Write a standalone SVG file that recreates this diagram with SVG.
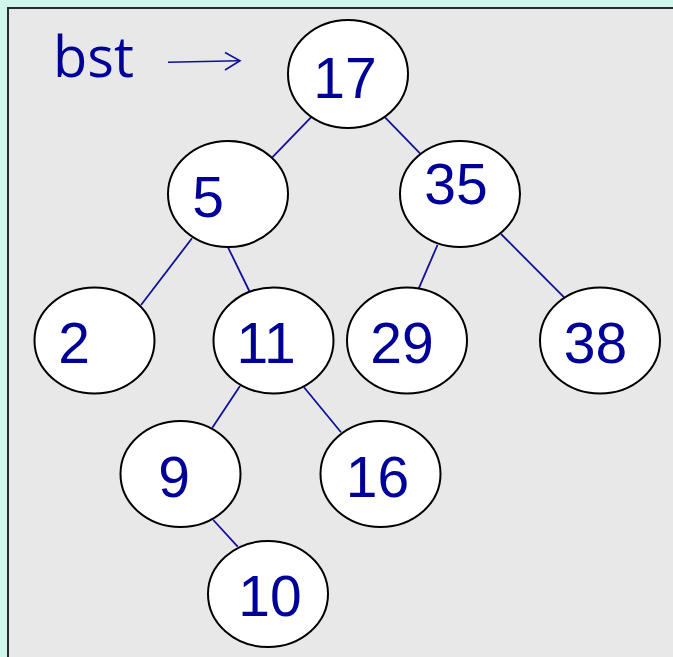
<svg xmlns="http://www.w3.org/2000/svg" width="673" height="657" viewBox="0 0 673 657">
<style>
.node ellipse{fill:#ffffff;stroke:#000000;stroke-width:2}
.node text{font-family:"Liberation Sans",Arial,sans-serif;font-size:57px;fill:#000099;text-anchor:middle}
#edges line{stroke:#10109a;stroke-width:1.8}
</style>
<rect x="0" y="0" width="673" height="657" fill="#d0f5ea"/>
<rect x="8" y="8" width="680" height="670" fill="#e8e8e8" stroke="#2a2a2a" stroke-width="2"/>
<g id="label-bst">
<text x="53" y="77" font-family="'Open Sans','Noto Sans',sans-serif" font-size="56" fill="#000099">bst</text>
<line x1="168" y1="62.3" x2="239" y2="60.7" stroke="#10109a" stroke-width="1.6"/>
<path d="M225 52.5 L240 60.7 L225 70" fill="none" stroke="#10109a" stroke-width="1.6"/>
</g>
<g id="edges">
<line x1="311.7" y1="116.7" x2="272.3" y2="157.3"/>
<line x1="384.3" y1="116.7" x2="420" y2="153.3"/>
<line x1="192" y1="238.3" x2="141" y2="305"/>
<line x1="228" y1="247.3" x2="249.3" y2="291"/>
<line x1="437.5" y1="245" x2="418.8" y2="288.3"/>
<line x1="501" y1="234" x2="564.4" y2="297.7"/>
<line x1="240" y1="386" x2="212.3" y2="427.7"/>
<line x1="304" y1="387.3" x2="341" y2="432.3"/>
<line x1="213.3" y1="520" x2="237.7" y2="546.7"/>
</g>
<g id="n17" class="node"><ellipse cx="348" cy="74" rx="60" ry="54"/><text x="345" y="98">17</text></g>
<g id="n5" class="node"><ellipse cx="228" cy="194" rx="60" ry="53"/><text x="208" y="217">5</text></g>
<g id="n35" class="node"><ellipse cx="460" cy="194" rx="60" ry="53"/><text x="456" y="204">35</text></g>
<g id="n2" class="node"><ellipse cx="94.5" cy="340.5" rx="60" ry="53"/><text x="74" y="363">2</text></g>
<g id="n11" class="node"><ellipse cx="273.5" cy="340.5" rx="60" ry="53"/><text x="266" y="363">11</text></g>
<g id="n29" class="node"><ellipse cx="407" cy="340.5" rx="60" ry="53"/><text x="402" y="363">29</text></g>
<g id="n38" class="node"><ellipse cx="600" cy="340.5" rx="60" ry="53"/><text x="595.5" y="363">38</text></g>
<g id="n9" class="node"><ellipse cx="180.5" cy="474" rx="60" ry="53"/><text x="174" y="497">9</text></g>
<g id="n16" class="node"><ellipse cx="380.5" cy="474" rx="60" ry="53"/><text x="377.5" y="497">16</text></g>
<g id="n10" class="node"><ellipse cx="268" cy="594" rx="60" ry="53"/><text x="270" y="616">10</text></g>
</svg>
